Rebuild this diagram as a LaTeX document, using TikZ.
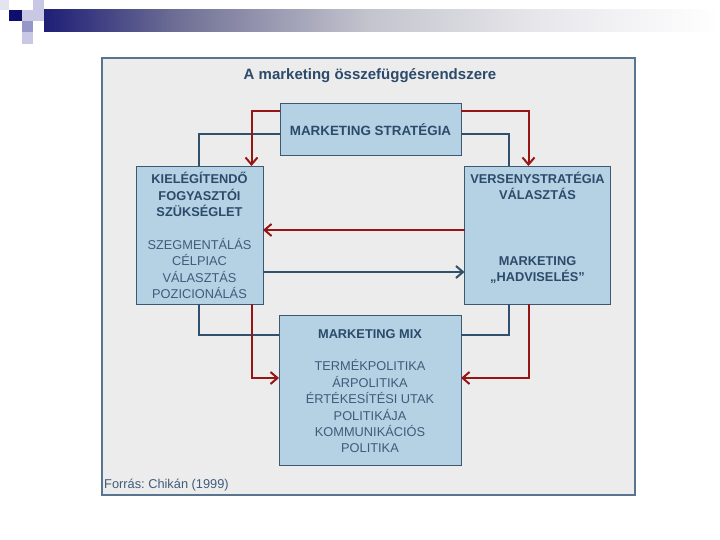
\documentclass[tikz,border=0pt]{standalone}
\usepackage{fontspec}
\setmainfont{Liberation Sans}
\frenchspacing
\usetikzlibrary{arrows.meta}
\definecolor{boxfill}{RGB}{180,210,228}
\definecolor{boxline}{RGB}{62,88,114}
\definecolor{txtbold}{RGB}{44,74,106}
\definecolor{txtreg}{RGB}{62,92,122}
\definecolor{redl}{RGB}{150,22,22}
\definecolor{bluel}{RGB}{48,80,110}
\definecolor{framefill}{RGB}{236,236,236}
\definecolor{frameline}{RGB}{88,116,142}
\definecolor{navy}{RGB}{14,14,110}
\definecolor{sqlight}{RGB}{200,200,228}
\definecolor{sqmid}{RGB}{150,150,200}
\definecolor{sqfaint}{RGB}{228,228,240}
\definecolor{gA}{RGB}{30,30,118}
\definecolor{gB}{RGB}{112,112,150}
\definecolor{gC}{RGB}{196,196,206}
\definecolor{gD}{RGB}{232,232,236}
\pgfdeclarehorizontalshading{barshade}{100bp}{color(0bp)=(gA); color(25bp)=(gA); color(35bp)=(gB); color(49bp)=(gC); color(62bp)=(gD); color(75bp)=(white); color(100bp)=(white)}
\begin{document}
\begin{tikzpicture}[x=1pt,y=-1pt,
  boxnode/.style={draw=boxline, fill=boxfill, line width=0.9pt, inner sep=0pt, outer sep=0pt},
  boxtxt/.style={align=center, text=txtreg, font=\fontsize{12.8}{16.4}\selectfont, inner sep=0pt},
  boldtxt/.style={boxtxt, text=txtbold, font=\fontsize{12.8}{16.4}\selectfont\bfseries},
  redline/.style={draw=redl, line width=2pt},
  blueline/.style={draw=bluel, line width=2pt},
  redarrow/.style={redline, -{Straight Barb[length=7pt,width=12pt]}},
  bluearrow/.style={blueline, -{Straight Barb[length=7pt,width=12pt]}}]
\useasboundingbox (0,0) rectangle (720,540);
% banner
\shade[shading=barshade] (44,10) rectangle (720,32);
\fill[sqfaint] (0,0) rectangle (9,10);
\fill[sqlight] (33,0) rectangle (44,10);
\fill[navy] (9,10) rectangle (22,21);
\fill[sqlight] (22,10) rectangle (44,21);
\fill[sqmid] (22,21) rectangle (33,32);
\fill[sqlight] (22,32) rectangle (33,44);
% frame
\draw[frameline, fill=framefill, line width=2.5pt] (102,58) rectangle (635,495);
\node[font=\fontsize{15}{17}\selectfont\bfseries, text=txtbold, inner sep=0pt] (title) at (370,76) {A marketing összefüggésrendszere};
% boxes
\node[boxnode, minimum width=181pt, minimum height=52pt] (strat) at (370.5,129.5) {};
\node[boxnode, minimum width=127pt, minimum height=138pt] (need) at (199.5,235) {};
\node[boxnode, minimum width=146pt, minimum height=138pt] (comp) at (537.5,235) {};
\node[boxnode, minimum width=182pt, minimum height=150pt] (mix) at (370,390.5) {};
% texts
\node[boldtxt, font=\fontsize{13.4}{16.4}\selectfont\bfseries] (strattxt) at (strat) {MARKETING STRATÉGIA};
\node[boxtxt] (needtxt) at (199.5,235.5) {\textcolor{txtbold}{\bfseries KIELÉGÍTENDŐ}\\\textcolor{txtbold}{\bfseries FOGYASZTÓI}\\\textcolor{txtbold}{\bfseries SZÜKSÉGLET}\\[16.4pt]SZEGMENTÁLÁS\\CÉLPIAC\\VÁLASZTÁS\\POZICIONÁLÁS};
\node[boldtxt] (comptxt1) at (537.5,186) {VERSENYSTRATÉGIA\\VÁLASZTÁS};
\node[boldtxt] (comptxt2) at (537.5,270) {MARKETING\\„HADVISELÉS”};
\node[boxtxt] (mixtxt) at (370,391) {\textcolor{txtbold}{\bfseries MARKETING MIX}\\[16.4pt]TERMÉKPOLITIKA\\ÁRPOLITIKA\\ÉRTÉKESÍTÉSI UTAK\\POLITIKÁJA\\KOMMUNIKÁCIÓS\\POLITIKA};
\node[anchor=west, text=txtreg, font=\fontsize{12.8}{15}\selectfont, inner sep=0pt] (src) at (104,485) {Forrás: Chikán (1999)};
% rails
\coordinate (ytopR) at (0,111.5);
\coordinate (ytopB) at (0,134.5);
\coordinate (ymidR) at (0,230);
\coordinate (ymidB) at (0,272);
\coordinate (ybotB) at (0,335);
\coordinate (ybotR) at (0,378);
\coordinate (xLB) at (199,0);
\coordinate (xLR) at (251.5,0);
\coordinate (xRB) at (508.5,0);
\coordinate (xRR) at (528.5,0);
% connectors
\draw[blueline] (strat.west |- ytopB) -| (need.north -| xLB);
\draw[redarrow] (strat.west |- ytopR) -| (need.north -| xLR);
\draw[blueline] (strat.east |- ytopB) -| (comp.north -| xRB);
\draw[redarrow] (strat.east |- ytopR) -| (comp.north -| xRR);
\draw[redarrow] (comp.west |- ymidR) -- (need.east |- ymidR);
\draw[bluearrow] (need.east |- ymidB) -- (comp.west |- ymidB);
\draw[blueline] (need.south -| xLB) |- (mix.west |- ybotB);
\draw[redarrow] (need.south -| xLR) |- (mix.west |- ybotR);
\draw[blueline] (comp.south -| xRB) |- (mix.east |- ybotB);
\draw[redarrow] (comp.south -| xRR) |- (mix.east |- ybotR);
\end{tikzpicture}
\end{document}
